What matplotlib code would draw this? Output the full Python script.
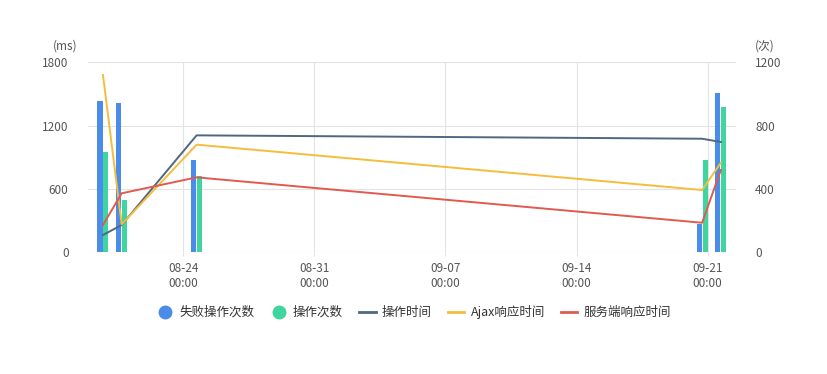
import numpy as np
import pandas as pd
import matplotlib
matplotlib.use('Agg')
import matplotlib.pyplot as plt
import matplotlib.dates as mdates
from matplotlib.lines import Line2D

plt.rcParams['font.family'] = ['Noto Sans CJK SC', 'DejaVu Sans']

# data
times = pd.to_datetime(['2023-08-19 17:00', '2023-08-20 17:00', '2023-08-24 17:00',
                        '2023-09-20 17:00', '2023-09-21 17:00'])
fail_count = [955, 943, 583, 179, 1006]       # 失败操作次数 (次)
op_count = [633, 330, 482, 583, 918]          # 操作次数 (次)
op_time = [164, 259, 1108, 1076, 1045]        # 操作时间 (ms)
ajax_time = [1680, 265, 1020, 590, 849]       # Ajax响应时间 (ms)
server_time = [259, 559, 710, 280, 780]       # 服务端响应时间 (ms)

tick_dates = pd.to_datetime(['2023-08-24', '2023-08-31', '2023-09-07', '2023-09-14', '2023-09-21'])

c_blue = '#4b8bea'
c_green = '#3fd5a0'
c_dark = '#4e6782'
c_yellow = '#f5bd3c'
c_red = '#e05a50'
grid_c = '#e3e3e3'
txt_c = '#555555'

fig = plt.figure(figsize=(8.28, 3.74), dpi=100)
ax = fig.add_axes([0.1063, 0.3254, 0.7822, 0.508])
ax2 = ax.twinx()

# bars on the right axis
w = 0.27
off = pd.Timedelta(days=0.16)
ax2.bar(times - off, fail_count, width=w, color=c_blue, zorder=2)
ax2.bar(times + off, op_count, width=w, color=c_green, zorder=2)
ax2.set_ylim(0, 1200)
ax2.set_yticks([0, 400, 800, 1200])

# lines on the left axis, drawn above bars
ax.set_zorder(ax2.get_zorder() + 1)
ax.patch.set_visible(False)
ax.plot(times, op_time, color=c_dark, lw=1.4)
ax.plot(times, ajax_time, color=c_yellow, lw=1.4)
ax.plot(times, server_time, color=c_red, lw=1.4)
ax.set_ylim(0, 1800)
ax.set_yticks([0, 600, 1200, 1800])

ax.set_xlim(pd.Timestamp('2023-08-18 21:50'), pd.Timestamp('2023-09-22 12:00'))
ax.set_xticks(tick_dates)
ax.xaxis.set_major_formatter(mdates.DateFormatter('%m-%d\n%H:%M'))

# gridlines on ax2 (behind bars)
for y in [0, 400, 800, 1200]:
    ax2.axhline(y, color=grid_c, lw=0.8, zorder=0)
for d in tick_dates:
    ax2.axvline(d, color=grid_c, lw=0.8, zorder=0)

for a in (ax, ax2):
    for s in a.spines.values():
        s.set_visible(False)
ax.tick_params(axis='y', length=0, pad=14, labelsize=8.5, labelcolor=txt_c)
ax2.tick_params(axis='y', length=0, pad=14, labelsize=8.5, labelcolor=txt_c)
ax.tick_params(axis='x', length=3, color=grid_c, pad=4, labelsize=8.5, labelcolor=txt_c)

ax.text(-0.036, 1.085, '(ms)', transform=ax.transAxes, ha='center', va='center',
        fontsize=8.5, color=txt_c)
ax.text(1.045, 1.085, '(次)', transform=ax.transAxes, ha='center', va='center',
        fontsize=8.5, color=txt_c)

handles = [
    Line2D([], [], marker='o', ls='none', color=c_blue, markersize=9),
    Line2D([], [], marker='o', ls='none', color=c_green, markersize=9),
    Line2D([], [], color=c_dark, lw=2),
    Line2D([], [], color=c_yellow, lw=2),
    Line2D([], [], color=c_red, lw=2),
]
labels = ['失败操作次数', '操作次数', '操作时间', 'Ajax响应时间', '服务端响应时间']
fig.legend(handles, labels, loc='center', bbox_to_anchor=(0.5, 0.166), ncol=5,
           frameon=False, fontsize=9, handlelength=1.3, handletextpad=0.5,
           columnspacing=1.3, labelcolor='#333333')

fig.savefig('out.png', dpi=100)
